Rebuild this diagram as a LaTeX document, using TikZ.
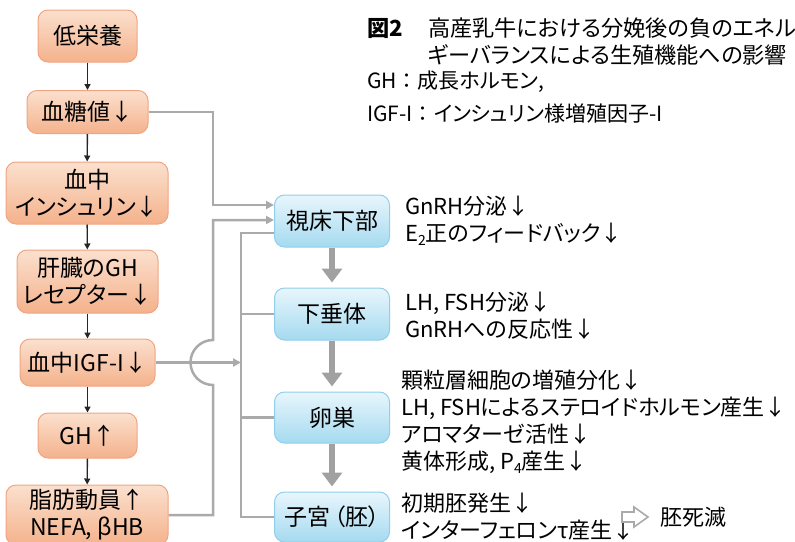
\documentclass[tikz,border=0pt]{standalone}
\usepackage{fontspec}
\setmainfont{Noto Sans CJK JP}[RawFeature=+palt]
\newfontfamily\jpfull{Noto Sans CJK JP}
\usetikzlibrary{arrows.meta,calc}
\definecolor{otop}{RGB}{251,224,206}
\definecolor{obot}{RGB}{244,178,140}
\definecolor{obord}{RGB}{240,165,130}
\definecolor{btop}{RGB}{232,246,252}
\definecolor{bbot}{RGB}{165,218,240}
\definecolor{bbord}{RGB}{145,206,236}
\definecolor{gline}{RGB}{170,170,170}
\newcommand{\sbs}[1]{\raisebox{-0.35ex}{\fontsize{14}{14}\selectfont #1}}
\begin{document}
\begin{tikzpicture}[x=1pt,y=-1pt,
  lbox/.style={draw=obord, line width=1pt, rounded corners=10pt, top color=otop, bottom color=obot,
    font=\fontsize{23}{27}\selectfont, align=center, inner sep=0pt},
  rbox/.style={draw=bbord, line width=1pt, rounded corners=10pt, top color=btop, bottom color=bbot,
    font=\fontsize{23}{27}\selectfont, align=center, inner sep=0pt, minimum width=115pt},
  txt/.style={font=\fontsize{22}{27}\selectfont, align=left, inner sep=0pt, anchor=west},
  barrow/.style={-{Triangle[length=6pt,width=6pt]}, line width=1.4pt, black!85},
  gconn/.style={gline, line width=2.5pt},
  garrow/.style={gline, line width=2.5pt, -{Triangle[length=8pt,width=8pt]}},
  bigarrow/.style={gline!95!black, line width=6pt, -{Triangle[length=14pt,width=20pt]}, shorten >=5pt}
]
\useasboundingbox (0,0) rectangle (795,541);

% left column
\node[lbox, minimum width=99pt, minimum height=52pt] (low) at (87.5,36) {低栄養};
\node[lbox, minimum width=121pt, minimum height=43pt] (glu) at (87.5,112) {血糖値↓};
\node[lbox, minimum width=162pt, minimum height=62pt] (ins) at (87,193) {血中\\インシュリン↓};
\node[lbox, minimum width=141pt, minimum height=63pt] (ghr) at (87.5,281.5) {肝臓のGH\\レセプター↓};
\node[lbox, minimum width=135pt, minimum height=47pt] (igf) at (87.5,362.5) {血中IGF-I↓};
\node[lbox, minimum width=99pt, minimum height=45pt] (gh) at (87.5,435.5) {GH↑};
\node[lbox, minimum width=162pt, minimum height=60pt] (fat) at (87,515) {脂肪動員↑\\NEFA, βHB};

\draw[barrow] (low) -- (glu);
\draw[barrow] (glu) -- (ins);
\draw[barrow] (ins) -- (ghr);
\draw[barrow] (ghr) -- (igf);
\draw[barrow] (igf) -- (gh);
\draw[barrow] (gh) -- (fat);

% right column
\node[rbox, minimum height=52pt] (hyp) at (332,221) {視床下部};
\node[rbox, minimum height=52pt] (pit) at (332,314) {下垂体};
\node[rbox, minimum height=51pt] (ova) at (332,417.5) {卵巣};
\node[rbox, minimum height=50pt] (ute) at (332,517) {子宮\hspace{4pt}（胚）};

\draw[bigarrow] (hyp) -- (pit);
\draw[bigarrow] (pit) -- (ova);
\draw[bigarrow] (ova) -- (ute);

% connectors
\coordinate (j1) at (213,205);
\draw[garrow] (glu.east) -| (j1) -- (j1 -| hyp.west);

\coordinate (j2) at (213,220);
\coordinate (jb) at (213,385);
\draw[garrow] (fat.east) -| (jb) arc[start angle=270, end angle=90, radius=22.5pt] -- (j2) -- (j2 -| hyp.west);

\coordinate (bt) at (241,233);
\coordinate (bb) at (241,517);
\draw[gconn] (bt -| hyp.west) -- (bt) -- (bb) -- (bb -| ute.west);
\draw[gconn] (241,314) -- (pit.west);
\draw[gconn] (241,417.5) -- (ova.west);
\draw[garrow] (igf.east) -- (igf.east -| bt);

% right texts
\node[txt] (thyp) at (405,221) {GnRH分泌↓\\E\sbs{2}正のフィードバック↓};
\node[txt] (tpit) at (405,316) {LH, FSH分泌↓\\GnRHへの反応性↓};
\node[txt] (tova) at (401,422) {顆粒層細胞の増殖分化↓\\LH, FSHによるステロイドホルモン産生↓\\アロマターゼ活性↓\\黄体形成, P\sbs{4}産生↓};
\node[txt] (tute) at (401,517) {初期胚発生↓\\インターフェロンτ産生↓};
\coordinate (harr) at (622,517);
\draw[gline, line width=1.6pt, fill=white, line join=miter]
  ($(harr)+(0,-5)$) -- ++(12,0) -- ++(0,-5) -- ++(14,10) -- ++(-14,10) -- ++(0,-5) -- ++(-12,0) -- cycle;
\node[txt] (death) at (660,517) {胚死滅};

% title & legend
\node[txt, font=\fontsize{22.2}{27}\selectfont\bfseries] (fig) at (367,28) {図2};
\node[txt, font=\fontsize{22.2}{27}\selectfont] (title) at (428,41.5) {高産乳牛における分娩後の負のエネル\\ギーバランスによる生殖機能への影響};
\node[txt, font=\fontsize{21}{27}\selectfont] (leg1) at (367,82) {GH{\jpfull ：}成長ホルモン,};
\node[txt, font=\fontsize{21}{27}\selectfont] (leg2) at (367,114) {IGF-I{\jpfull ：}インシュリン様増殖因子-I};
\end{tikzpicture}
\end{document}
